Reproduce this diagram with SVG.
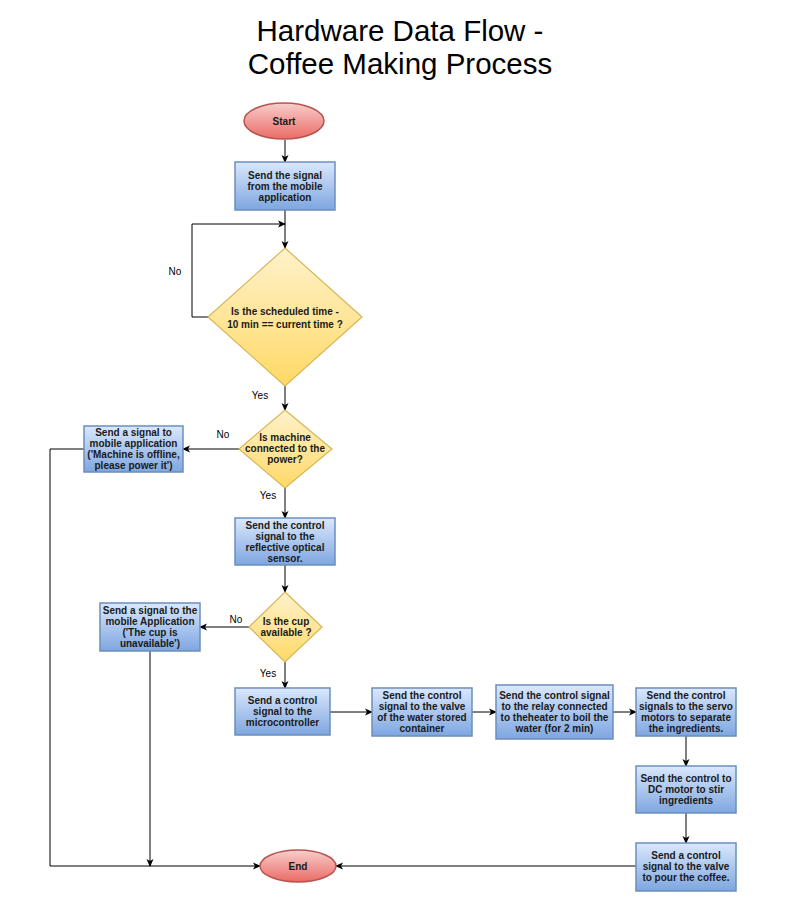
<svg xmlns="http://www.w3.org/2000/svg" width="800" height="900" viewBox="0 0 800 900">
<defs>
<linearGradient id="gBlue" x1="0" y1="0" x2="0" y2="1"><stop offset="0" stop-color="#dae8fc"/><stop offset="1" stop-color="#7ea6e0"/></linearGradient>
<linearGradient id="gYel" x1="0" y1="0" x2="0" y2="1"><stop offset="0" stop-color="#fff2cc"/><stop offset="1" stop-color="#ffd966"/></linearGradient>
<linearGradient id="gRed" x1="0" y1="0" x2="0" y2="1"><stop offset="0" stop-color="#f8cecc"/><stop offset="1" stop-color="#ea6b66"/></linearGradient>
<marker id="arr" markerWidth="8" markerHeight="8" refX="7" refY="4" orient="auto" markerUnits="userSpaceOnUse"><path d="M0,0.5 L8,4 L0,7.5 L2,4 z" fill="#000"/></marker>
<style>
.box{fill:url(#gBlue);stroke:#6c8ebf;stroke-width:1.5}
.dia{fill:url(#gYel);stroke:#d6b656;stroke-width:1.2}
.ell{fill:url(#gRed);stroke:#b85450;stroke-width:1.5}
.t{font-family:"Liberation Sans",Arial,sans-serif;font-size:10px;font-weight:bold;fill:#1a1a1a;text-anchor:middle}
.lbl{font-family:"Liberation Sans",Arial,sans-serif;font-size:10px;fill:#000;text-anchor:middle}
.title{font-family:"Liberation Sans",Arial,sans-serif;font-size:29.5px;fill:#000;text-anchor:middle}
.c{fill:none;stroke:#000;stroke-width:1;marker-end:url(#arr)}
</style>
</defs>
<rect width="800" height="900" fill="#fff"/>
<text class="title" x="400" y="41">Hardware Data Flow -</text>
<text class="title" x="400" y="74">Coffee Making Process</text>

<g id="connectors">
<path class="c" d="M285,140 L285,162"/>
<path class="c" d="M285,210 L285,248"/>
<path class="c" d="M208,317 L192,317 L192,224 L285,224"/>
<path class="c" d="M285,386 L285,410"/>
<path class="c" d="M239,449 L183,449"/>
<path class="c" d="M285,488 L285,518"/>
<path class="c" d="M285,565 L285,592"/>
<path class="c" d="M249,627 L200,627"/>
<path class="c" d="M285,662 L285,688"/>
<path class="c" d="M330,712 L372,712"/>
<path class="c" d="M472,712 L496,712"/>
<path class="c" d="M613,712 L636,712"/>
<path class="c" d="M686,736 L686,766"/>
<path class="c" d="M686,813 L686,843"/>
<path class="c" d="M636,866 L336,866"/>
<path class="c" d="M84,449 L50,449 L50,866 L260,866"/>
<path class="c" d="M150,651 L150,866"/>
<text class="lbl" x="175" y="275">No</text>
<text class="lbl" x="260" y="399">Yes</text>
<text class="lbl" x="223" y="438">No</text>
<text class="lbl" x="268" y="499">Yes</text>
<text class="lbl" x="236" y="623">No</text>
<text class="lbl" x="268" y="677">Yes</text>
</g>

<g id="start">
<ellipse class="ell" cx="284" cy="121" rx="40" ry="18"/>
<text class="t" x="284" y="124.5">Start</text>
</g>

<g id="box1">
<rect class="box" x="235" y="162" width="100" height="48"/>
<text class="t" x="285" y="178.5">Send the signal</text>
<text class="t" x="285" y="189.5">from the mobile</text>
<text class="t" x="285" y="200.5">application</text>
</g>

<g id="decision1">
<polygon class="dia" points="285,248 362,317 285,386 208,317"/>
<text class="t" x="285" y="315">Is the scheduled time -</text>
<text class="t" x="285" y="328">10 min == current time ?</text>
</g>

<g id="decision2">
<polygon class="dia" points="285,410 332,449 285,488 239,449"/>
<text class="t" x="285" y="441">Is machine</text>
<text class="t" x="285" y="452">connected to the</text>
<text class="t" x="285" y="463">power?</text>
</g>

<g id="box2">
<rect class="box" x="84" y="426" width="99" height="46"/>
<text class="t" x="133.5" y="436">Send a signal to</text>
<text class="t" x="133.5" y="447">mobile application</text>
<text class="t" x="133.5" y="458">('Machine is offline,</text>
<text class="t" x="133.5" y="469">please power it')</text>
</g>

<g id="box3">
<rect class="box" x="235" y="518" width="100" height="47"/>
<text class="t" x="285" y="529">Send the control</text>
<text class="t" x="285" y="540">signal to the</text>
<text class="t" x="285" y="551">reflective optical</text>
<text class="t" x="285" y="562">sensor.</text>
</g>

<g id="decision3">
<polygon class="dia" points="285,592 322,627 285,662 249,627"/>
<text class="t" x="286" y="625">Is the cup</text>
<text class="t" x="286" y="636">available ?</text>
</g>

<g id="box4">
<rect class="box" x="100" y="603" width="100" height="48"/>
<text class="t" x="150" y="614">Send a signal to the</text>
<text class="t" x="150" y="625">mobile Application</text>
<text class="t" x="150" y="636">('The cup is</text>
<text class="t" x="150" y="647">unavailable')</text>
</g>

<g id="box5">
<rect class="box" x="235" y="688" width="95" height="47"/>
<text class="t" x="282.5" y="704">Send a control</text>
<text class="t" x="282.5" y="715">signal to the</text>
<text class="t" x="282.5" y="726">microcontroller</text>
</g>

<g id="box6">
<rect class="box" x="372" y="688" width="100" height="48"/>
<text class="t" x="422" y="699">Send the control</text>
<text class="t" x="422" y="710">signal to the valve</text>
<text class="t" x="422" y="721">of the water stored</text>
<text class="t" x="422" y="732">container</text>
</g>

<g id="box7">
<rect class="box" x="496" y="685" width="117" height="54"/>
<text class="t" x="554.5" y="699">Send the control signal</text>
<text class="t" x="554.5" y="710">to the relay connected</text>
<text class="t" x="554.5" y="721">to theheater to boil the</text>
<text class="t" x="554.5" y="732">water (for 2 min)</text>
</g>

<g id="box8">
<rect class="box" x="636" y="688" width="100" height="48"/>
<text class="t" x="686" y="699">Send the control</text>
<text class="t" x="686" y="710">signals to the servo</text>
<text class="t" x="686" y="721">motors to separate</text>
<text class="t" x="686" y="732">the ingredients.</text>
</g>

<g id="box9">
<rect class="box" x="636" y="766" width="100" height="47"/>
<text class="t" x="686" y="782">Send the control to</text>
<text class="t" x="686" y="793">DC motor to stir</text>
<text class="t" x="686" y="804">ingredients</text>
</g>

<g id="box10">
<rect class="box" x="636" y="843" width="100" height="48"/>
<text class="t" x="686" y="859">Send a control</text>
<text class="t" x="686" y="870">signal to the valve</text>
<text class="t" x="686" y="881">to pour the coffee.</text>
</g>

<g id="end">
<ellipse class="ell" cx="298" cy="866" rx="38" ry="16"/>
<text class="t" x="298" y="869.5">End</text>
</g>
</svg>
